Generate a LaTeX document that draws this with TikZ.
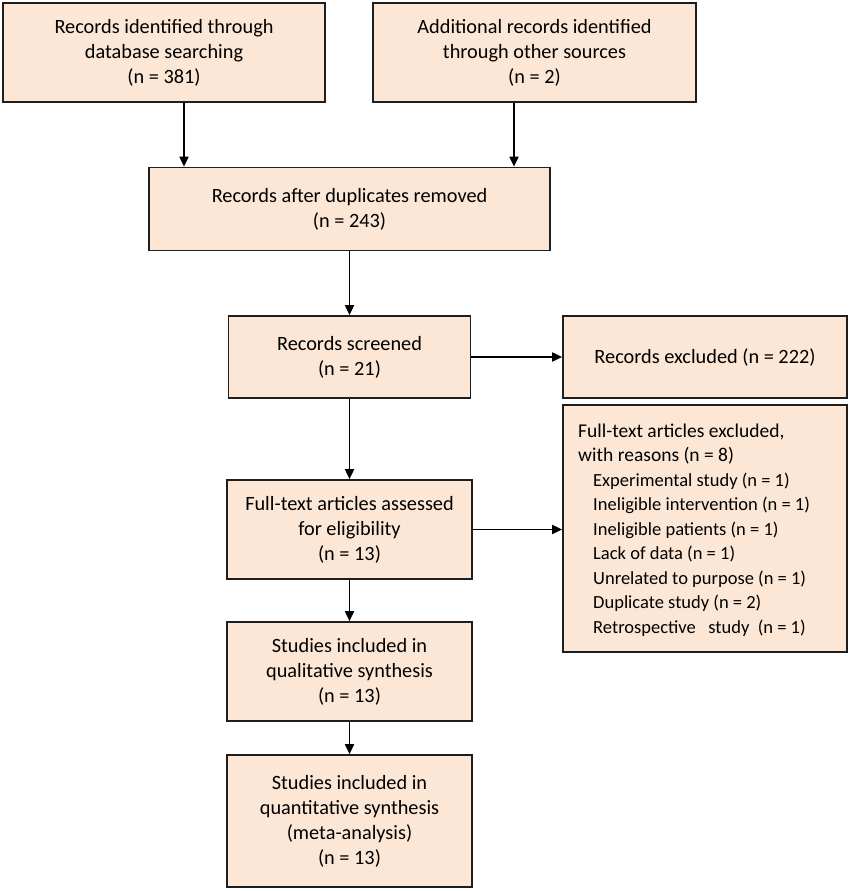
\documentclass[tikz,border=0pt]{standalone}
\usepackage{fontspec}
\setmainfont{Carlito}
\usetikzlibrary{arrows.meta}
\definecolor{boxfill}{RGB}{252,231,214}
\definecolor{boxline}{RGB}{30,30,30}
\newcommand\reasonline[1]{{\fontsize{18.5}{24.5}\selectfont\hspace*{15pt}#1}}
\begin{document}
\begin{tikzpicture}[x=1pt,y=-1pt,
  box/.style={draw=boxline, line width=1.7pt, fill=boxfill, rectangle, align=center, inner sep=0pt,
    font=\fontsize{20.3}{25}\selectfont},
  arr/.style={line width=1.8pt, draw=black, -{Triangle[length=10pt,width=9pt]}}]
\useasboundingbox[fill=white] (0,0) rectangle (851,891);
\node[box, minimum width=322pt, minimum height=99pt] (A) at (164,52.5) {Records identified through\\database searching\\(n = 381)};
\node[box, minimum width=323pt, minimum height=99pt] (B) at (534.5,52.5) {Additional records identified\\through other sources\\(n = 2)};
\node[box, minimum width=401pt, minimum height=83pt] (C) at (349.5,209) {Records after duplicates removed\\(n = 243)};
\node[box, minimum width=242pt, minimum height=82pt] (D) at (349.5,357) {Records screened\\(n = 21)};
\node[box, minimum width=284pt, minimum height=82pt] (E) at (705,357) {Records excluded (n = 222)};
\node[box, minimum width=284pt, minimum height=247pt] (F) at (705,528.5) {};
\node[anchor=west, align=left, inner sep=0pt, font=\fontsize{19.5}{24.5}\selectfont] (Ft) at (578,530) {Full-text articles excluded,\\with reasons (n = 8)\\
\reasonline{Experimental study (n = 1)}\\
\reasonline{Ineligible intervention (n = 1)}\\
\reasonline{Ineligible patients (n = 1)}\\
\reasonline{Lack of data (n = 1)}\\
\reasonline{Unrelated to purpose (n = 1)}\\
\reasonline{Duplicate study (n = 2)}\\
\reasonline{Retrospective\ \ \ study\ \ (n = 1)}};
\node[box, minimum width=245pt, minimum height=99pt] (G) at (349.5,529.5) {Full-text articles assessed\\for eligibility\\(n = 13)};
\node[box, minimum width=245pt, minimum height=99pt] (H) at (349.5,671.5) {Studies included in\\qualitative synthesis\\(n = 13)};
\node[box, minimum width=245pt, minimum height=132pt] (I) at (349.5,821) {Studies included in\\quantitative synthesis\\(meta-analysis)\\(n = 13)};
\draw[arr] ([xshift=20pt]A.south) -- ([xshift=20pt]A.south |- C.north);
\draw[arr] ([xshift=-20.5pt]B.south) -- ([xshift=-20.5pt]B.south |- C.north);
\draw[arr] (C.south) -- (D.north);
\draw[arr] (D.east) -- (E.west);
\draw[arr] (D.south) -- (G.north);
\draw[arr] (G.east) -- (G.east -| F.west);
\draw[arr] (G.south) -- (H.north);
\draw[arr] (H.south) -- (I.north);
\end{tikzpicture}
\end{document}
